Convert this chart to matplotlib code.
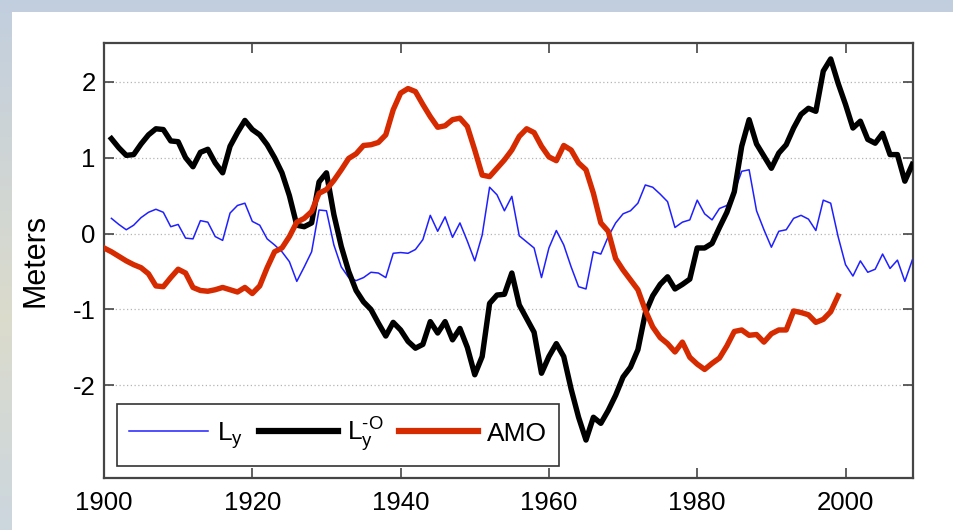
import numpy as np
import matplotlib
matplotlib.use("Agg")
import matplotlib.pyplot as plt
from matplotlib.patches import Rectangle

plt.rcParams['font.family'] = ['Liberation Sans', 'DejaVu Sans']
plt.rcParams['mathtext.fontset'] = 'custom'
plt.rcParams['mathtext.rm'] = 'Liberation Sans'
plt.rcParams['mathtext.it'] = 'Liberation Sans'
plt.rcParams['axes.unicode_minus'] = False

# ---------------- data ----------------
years_ly = list(range(1901, 2010))
ly = [0.20, 0.12, 0.05, 0.11, 0.21, 0.28, 0.32, 0.28, 0.09, 0.12,
      -0.06, -0.07, 0.17, 0.15, -0.04, -0.09, 0.27, 0.37, 0.40, 0.16,
      0.11, -0.07, -0.15, -0.24, -0.37, -0.63, -0.44, -0.24, 0.31, 0.30,
      -0.15, -0.44, -0.58, -0.62, -0.58, -0.51, -0.52, -0.58, -0.26, -0.25,
      -0.26, -0.21, -0.08, 0.24, 0.03, 0.22, -0.05, 0.14, -0.10, -0.36,
      -0.02, 0.61, 0.51, 0.30, 0.49, -0.03, -0.11, -0.19, -0.58, -0.19,
      0.04, -0.15, -0.44, -0.70, -0.73, -0.24, -0.27, -0.04, 0.14, 0.26,
      0.30, 0.40, 0.64, 0.61, 0.52, 0.42, 0.08, 0.15, 0.18, 0.44,
      0.26, 0.18, 0.33, 0.37, 0.55, 0.82, 0.84, 0.30, 0.05, -0.18,
      0.03, 0.05, 0.20, 0.24, 0.19, 0.04, 0.44, 0.40, -0.04, -0.41,
      -0.56, -0.36, -0.51, -0.47, -0.27, -0.46, -0.35, -0.63, -0.35]

years_lyo = list(range(1901, 2010))
lyo = [1.25, 1.13, 1.03, 1.04, 1.18, 1.30, 1.38, 1.37, 1.22, 1.21,
       1.00, 0.88, 1.07, 1.11, 0.93, 0.80, 1.15, 1.33, 1.49, 1.37,
       1.30, 1.17, 1.00, 0.80, 0.50, 0.11, 0.09, 0.14, 0.68, 0.80,
       0.25, -0.17, -0.50, -0.75, -0.90, -1.00, -1.18, -1.35, -1.17, -1.27,
       -1.42, -1.51, -1.46, -1.16, -1.31, -1.16, -1.40, -1.25, -1.50, -1.86,
       -1.62, -0.92, -0.81, -0.80, -0.52, -0.94, -1.12, -1.30, -1.84, -1.62,
       -1.45, -1.62, -2.05, -2.42, -2.72, -2.42, -2.50, -2.33, -2.13, -1.89,
       -1.76, -1.53, -1.05, -0.82, -0.67, -0.57, -0.73, -0.67, -0.60, -0.19,
       -0.19, -0.13, 0.08, 0.28, 0.55, 1.15, 1.50, 1.18, 1.02, 0.86,
       1.06, 1.17, 1.39, 1.57, 1.65, 1.61, 2.14, 2.30, 1.98, 1.70,
       1.39, 1.48, 1.24, 1.19, 1.32, 1.04, 1.04, 0.69, 0.91]

years_amo = list(range(1900, 2000))
amo = [-0.19, -0.24, -0.30, -0.36, -0.41, -0.45, -0.53, -0.69, -0.70, -0.58,
       -0.47, -0.52, -0.71, -0.75, -0.76, -0.74, -0.71, -0.74, -0.77, -0.71,
       -0.79, -0.69, -0.45, -0.24, -0.19, -0.04, 0.15, 0.20, 0.29, 0.53,
       0.58, 0.70, 0.84, 0.99, 1.05, 1.16, 1.17, 1.20, 1.30, 1.63,
       1.85, 1.91, 1.87, 1.70, 1.54, 1.40, 1.42, 1.50, 1.52, 1.41,
       1.10, 0.77, 0.75, 0.86, 0.97, 1.10, 1.28, 1.38, 1.33, 1.15,
       1.01, 0.96, 1.16, 1.10, 0.93, 0.84, 0.53, 0.14, 0.03, -0.33,
       -0.48, -0.61, -0.74, -1.01, -1.23, -1.37, -1.45, -1.56, -1.43, -1.63,
       -1.72, -1.79, -1.71, -1.64, -1.48, -1.29, -1.27, -1.34, -1.33, -1.43,
       -1.32, -1.27, -1.27, -1.02, -1.04, -1.07, -1.17, -1.13, -1.03, -0.82]

xticks = [1900, 1920, 1940, 1960, 1980, 2000]
yticks = [-2, -1, 0, 1, 2]
ytick_labels = ['-2', '-1', '0', '1', '2']
labels = [r'$\mathrm{L_y}$', r'$\mathrm{L_y^{\text{-}O}}$', 'AMO']

# ---------------- figure ----------------
W, H = 954, 530
fig = plt.figure(figsize=(W / 100, H / 100), dpi=100)

# background gradient (slide-like frame)
bg = fig.add_axes([0, 0, 1, 1], zorder=-10)
top_c = np.array([0.76, 0.81, 0.87])
mid_c = np.array([0.86, 0.86, 0.80])
bot_c = np.array([0.80, 0.84, 0.87])
t = np.linspace(0, 1, 200)[:, None]
grad = np.where(t < 0.6, top_c + (mid_c - top_c) * (t / 0.6),
                mid_c + (bot_c - mid_c) * ((t - 0.6) / 0.4))
bg.imshow(grad[:, None, :].repeat(2, axis=1), aspect='auto', extent=[0, 1, 0, 1],
          origin='upper')
bg.add_patch(Rectangle((12 / W, 0), 1 - 12 / W, 1 - 12 / H, facecolor='white',
                       edgecolor='none'))
bg.set_xlim(0, 1)
bg.set_ylim(0, 1)
bg.axis('off')

ax = fig.add_axes([104 / W, 1 - 478 / H, 809 / W, 435 / H])
ax.set_facecolor('white')

l1, = ax.plot(years_ly, ly, color='#1f1fff', lw=1.1, zorder=3)
l2, = ax.plot(years_lyo, lyo, color='black', lw=3.9, zorder=4, solid_joinstyle='round')
l3, = ax.plot(years_amo, amo, color='#d62a00', lw=3.9, zorder=5, solid_joinstyle='round')

ax.set_xlim(1900, 2009.1)
ax.set_ylim(-3.22, 2.51)
ax.set_xticks(xticks)
ax.set_xticklabels([str(v) for v in xticks])
ax.set_yticks(yticks)
ax.set_yticklabels(ytick_labels)

for v in yticks:
    ax.axhline(v, color='#b4b4b4', lw=0.9, linestyle=(0, (1, 2)), zorder=1)

for s in ax.spines.values():
    s.set_color('#454545')
    s.set_linewidth(1.6)

ax.tick_params(axis='both', direction='in', length=7, width=1.2, color='#454545',
               top=True, right=True, labelsize=18.5, labelcolor='black')
ax.tick_params(axis='x', pad=9)
ax.tick_params(axis='y', pad=6)

ax.set_ylabel('Meters', fontsize=22, labelpad=16)

leg = ax.legend([l1, l2, l3], labels, ncol=3, loc='lower left',
                bbox_to_anchor=(0.016, 0.0276, 0.5465, 0.1475), mode='expand',
                fontsize=19, frameon=True, fancybox=False, shadow=False,
                handlelength=3.0, handletextpad=0.35, columnspacing=0.8,
                borderpad=0.45, borderaxespad=0.0)
leg.get_frame().set_edgecolor('#333333')
leg.get_frame().set_linewidth(1.2)
leg.get_frame().set_alpha(1)
for h in leg.get_lines()[1:]:
    h.set_linewidth(4.5)

fig.savefig('out.png', dpi=100)
